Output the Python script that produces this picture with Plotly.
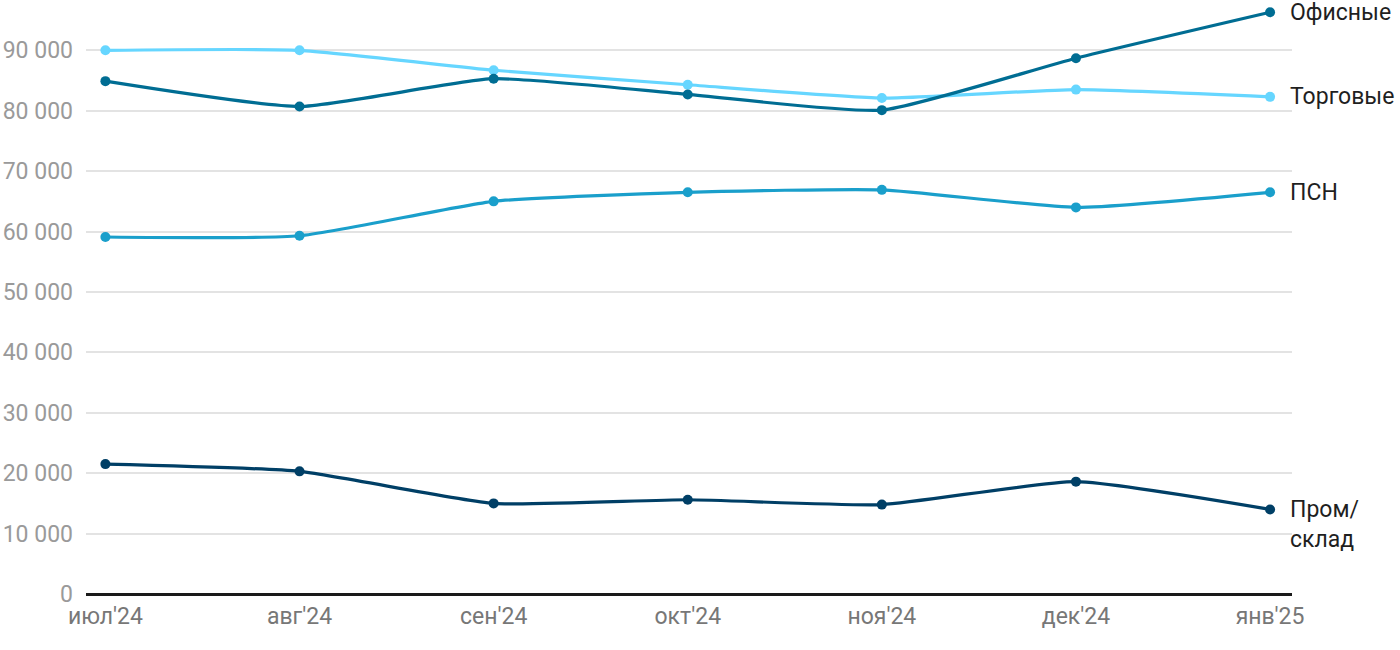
import plotly.graph_objects as go

months = ["июл'24", "авг'24", "сен'24", "окт'24", "ноя'24", "дек'24", "янв'25"]
office = [84900, 80700, 85300, 82700, 80100, 88700, 96300]
retail = [90000, 90000, 86700, 84300, 82100, 83500, 82300]
psn = [59100, 59300, 65000, 66500, 66900, 64000, 66500]
warehouse = [21500, 20300, 15000, 15600, 14800, 18600, 14000]

series_names = ["Офисные", "Торговые", "ПСН", "Пром/<br>склад"]
series_values = [office, retail, psn, warehouse]
colors = ["#006d93", "#66d6ff", "#1a9fcb", "#003f66"]

y_tickvals = [0, 10000, 20000, 30000, 40000, 50000, 60000, 70000, 80000, 90000]
y_ticktext = ["0", "10 000", "20 000", "30 000", "40 000", "50 000", "60 000", "70 000", "80 000", "90 000"]

xi = list(range(len(months)))

fig = go.Figure()
order = [1, 2, 0, 3]
for i in order:
    fig.add_trace(go.Scatter(
        x=xi, y=series_values[i], mode="lines+markers",
        line=dict(color=colors[i], width=3.2, shape="spline", smoothing=0.5),
        marker=dict(color=colors[i], size=10),
        showlegend=False, hoverinfo="skip"))

yshifts = [0, 0, 0, -15]
for i, name in enumerate(series_names):
    fig.add_annotation(
        x=xi[-1], y=series_values[i][-1], text=name, showarrow=False,
        xanchor="left", yanchor="middle", xshift=18, yshift=yshifts[i],
        align="left", font=dict(family="Roboto, Arial", size=23, color="#1f1f1f"))

fig.update_layout(
    width=1400, height=650,
    margin=dict(l=86, r=108, t=2, b=56),
    plot_bgcolor="white", paper_bgcolor="white",
    font=dict(family="Roboto, Arial", size=22, color="#9a9a9a"),
)
fig.update_xaxes(
    tickvals=xi, ticktext=months, range=[-0.1, 6.113],
    showgrid=False, zeroline=False, showline=False, automargin=False,
    ticks="", ticklabelstandoff=6,
    tickfont=dict(family="Roboto, Arial", size=23, color="#777777"),
)
fig.update_yaxes(
    tickvals=y_tickvals, ticktext=y_ticktext, range=[0, 98000],
    showgrid=True, gridcolor="#e3e3e3", gridwidth=1.5, automargin=False,
    zeroline=True, zerolinecolor="#1a1a1a", zerolinewidth=2.5,
    showline=False, ticks="", ticklabelstandoff=12,
    tickfont=dict(family="Roboto, Arial", size=23, color="#9a9a9a"),
)

fig.write_html("out.html", config={"displayModeBar": False},
               post_script="document.body.style.margin='0';")
